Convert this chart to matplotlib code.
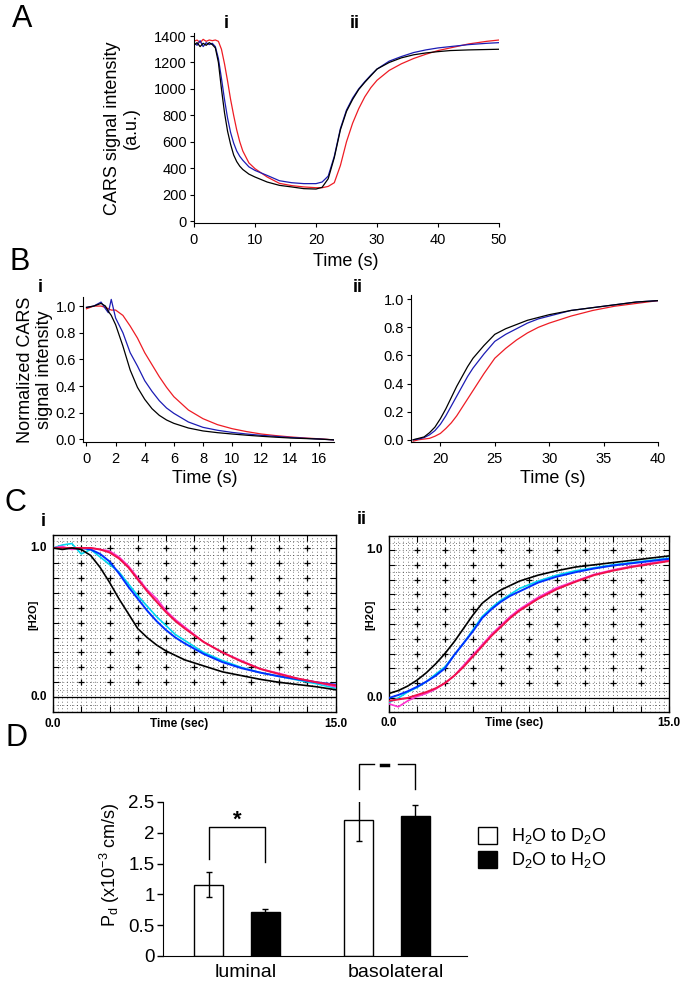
import numpy as np
import matplotlib.pyplot as plt
from matplotlib.patches import Rectangle
from matplotlib.ticker import MultipleLocator
import matplotlib.transforms as mtransforms

plt.rcParams['font.family'] = ['Liberation Sans', 'DejaVu Sans']
plt.rcParams['mathtext.default'] = 'regular'

# ---- A: raw CARS signal during H2O -> D2O -> H2O exchange
a_time = [0, 0.5, 1, 1.5, 2, 2.5, 3, 3.5, 4, 4.5, 5, 5.5, 6, 6.5, 7, 7.5, 8,
          9, 10, 12, 14, 16, 18, 20, 21, 22, 23, 24, 25, 26, 27, 28, 29, 30,
          32, 34, 36, 38, 40, 42, 45, 48, 50]
a_black = [1330, 1350, 1320, 1345, 1330, 1350, 1335, 1310, 1200, 1000, 820, 680,
           580, 500, 450, 415, 390, 355, 333, 295, 270, 258, 245, 242, 255, 320,
           480, 690, 830, 920, 995, 1050, 1100, 1150, 1200, 1235, 1258, 1272,
           1282, 1290, 1295, 1298, 1300]
a_blue = [1350, 1330, 1365, 1320, 1350, 1335, 1345, 1320, 1230, 1080, 920, 780,
          670, 590, 530, 490, 460, 410, 383, 345, 305, 290, 283, 283, 295, 340,
          490, 700, 840, 930, 1000, 1055, 1105, 1150, 1210, 1245, 1275, 1295,
          1310, 1320, 1335, 1345, 1350]
a_red = [1360, 1370, 1350, 1375, 1360, 1370, 1365, 1370, 1360, 1300, 1190, 1060,
         920, 800, 690, 600, 530, 440, 396, 333, 285, 268, 258, 252, 252, 262,
         290, 420, 600, 740, 850, 940, 1010, 1065, 1140, 1190, 1230, 1262, 1290,
         1310, 1340, 1360, 1370]

# ---- B: normalized traces, (i) H2O -> D2O, (ii) D2O -> H2O
bi_time = [0, 0.5, 1, 1.3, 1.5, 1.7, 2, 2.5, 3, 3.5, 4, 4.5, 5, 5.5, 6, 7, 8,
           9, 10, 11, 12, 13, 14, 15, 16, 17]
bi_black = [0.99, 1.0, 1.02, 1.0, 0.96, 0.93, 0.86, 0.70, 0.52, 0.39, 0.30, 0.23,
            0.18, 0.145, 0.12, 0.085, 0.063, 0.05, 0.04, 0.031, 0.023, 0.016,
            0.01, 0.006, 0.002, -0.004]
bi_blue = [0.99, 1.0, 1.03, 0.98, 0.95, 1.05, 0.91, 0.80, 0.65, 0.55, 0.44, 0.36,
           0.29, 0.235, 0.195, 0.13, 0.09, 0.068, 0.052, 0.04, 0.03, 0.022,
           0.014, 0.008, 0.002, -0.004]
bi_red = [0.98, 1.0, 1.0, 0.99, 0.98, 0.97, 0.97, 0.93, 0.85, 0.76, 0.65, 0.56,
          0.47, 0.39, 0.32, 0.22, 0.155, 0.11, 0.08, 0.058, 0.04, 0.028, 0.018,
          0.01, 0.004, -0.004]

bii_time = [17.5, 18, 18.5, 19, 19.5, 20, 20.5, 21, 21.5, 22, 22.5, 23, 24, 25,
            26, 27, 28, 29, 30, 32, 34, 36, 38, 40]
bii_black = [0.0, 0.01, 0.02, 0.05, 0.09, 0.15, 0.22, 0.30, 0.38, 0.45, 0.52,
             0.58, 0.67, 0.75, 0.79, 0.82, 0.85, 0.87, 0.89, 0.92, 0.94, 0.96,
             0.98, 0.99]
bii_blue = [0.0, 0.005, 0.015, 0.035, 0.065, 0.11, 0.17, 0.24, 0.31, 0.38, 0.45,
            0.51, 0.61, 0.70, 0.75, 0.79, 0.83, 0.86, 0.88, 0.92, 0.94, 0.96,
            0.98, 0.99]
bii_red = [-0.01, 0.0, 0.005, 0.01, 0.025, 0.045, 0.08, 0.12, 0.17, 0.23, 0.29,
           0.35, 0.47, 0.58, 0.65, 0.71, 0.76, 0.80, 0.83, 0.88, 0.92, 0.95,
           0.97, 0.99]

# ---- C: [H2O] traces with fits
c_time = [0, 0.5, 1, 1.5, 2, 2.5, 3, 3.5, 4, 4.5, 5, 5.5, 6, 6.5, 7, 8, 9, 10,
          11, 12, 13, 14, 15]
ci_black = [1.0, 0.99, 1.0, 0.99, 0.95, 0.87, 0.77, 0.66, 0.56, 0.46, 0.40,
            0.35, 0.31, 0.28, 0.25, 0.21, 0.17, 0.145, 0.12, 0.10, 0.085, 0.07,
            0.05]
ci_blue = [1.0, 1.0, 1.0, 1.0, 0.99, 0.96, 0.91, 0.83, 0.74, 0.66, 0.58, 0.51,
           0.45, 0.40, 0.36, 0.29, 0.235, 0.195, 0.165, 0.14, 0.12, 0.10, 0.085]
ci_cyan = [1.0, 1.02, 1.03, 0.96, 0.99, 0.94, 0.89, 0.84, 0.76, 0.68, 0.61, 0.54,
           0.48, 0.42, 0.38, 0.30, 0.245, 0.20, 0.165, 0.14, 0.115, 0.09, 0.06]
ci_red = [1.0, 1.0, 1.0, 1.0, 1.0, 0.99, 0.97, 0.93, 0.87, 0.79, 0.71, 0.64,
          0.57, 0.51, 0.46, 0.37, 0.30, 0.24, 0.19, 0.155, 0.125, 0.10, 0.08]
ci_magenta = [1.0, 1.01, 0.99, 1.0, 1.0, 0.99, 0.98, 0.94, 0.88, 0.80, 0.72,
              0.66, 0.58, 0.52, 0.47, 0.37, 0.30, 0.245, 0.19, 0.16, 0.125,
              0.10, 0.07]

cii_black = [0.03, 0.05, 0.08, 0.12, 0.17, 0.23, 0.30, 0.38, 0.47, 0.56, 0.64,
             0.69, 0.73, 0.76, 0.79, 0.83, 0.86, 0.885, 0.90, 0.915, 0.93,
             0.945, 0.96]
cii_blue = [0.0, 0.02, 0.045, 0.075, 0.11, 0.15, 0.20, 0.29, 0.37, 0.45, 0.54,
            0.60, 0.65, 0.69, 0.72, 0.78, 0.82, 0.85, 0.875, 0.895, 0.91, 0.925,
            0.94]
cii_cyan = [-0.03, 0.0, 0.04, 0.07, 0.11, 0.16, 0.21, 0.29, 0.37, 0.46, 0.55,
            0.61, 0.66, 0.70, 0.74, 0.79, 0.83, 0.86, 0.88, 0.90, 0.915, 0.93,
            0.945]
cii_red = [-0.02, -0.01, 0.0, 0.02, 0.04, 0.065, 0.10, 0.15, 0.21, 0.28, 0.35,
           0.42, 0.48, 0.54, 0.59, 0.67, 0.735, 0.785, 0.83, 0.86, 0.885, 0.905,
           0.925]
cii_magenta = [-0.04, -0.06, -0.02, 0.01, 0.03, 0.06, 0.10, 0.15, 0.22, 0.29,
               0.36, 0.43, 0.49, 0.55, 0.60, 0.68, 0.745, 0.79, 0.835, 0.865,
               0.89, 0.91, 0.93]

# ---- D: diffusional water permeability
groups = ['luminal', 'basolateral']
h2o_to_d2o = [1.16, 2.21]
h2o_to_d2o_err = [0.21, 0.35]
d2o_to_h2o = [0.72, 2.28]
d2o_to_h2o_err = [0.05, 0.17]

W, H = 685, 983
fig = plt.figure(figsize=(W / 100, H / 100), dpi=100)


def px_axes(l, t, r, b):
    return fig.add_axes([l / W, 1 - b / H, (r - l) / W, (b - t) / H])


def px_text(x, y, s, **kw):
    kw.setdefault('ha', 'center')
    kw.setdefault('va', 'center')
    fig.text(x / W, 1 - y / H, s, **kw)


BLUE = '#1c1cb4'
RED = '#ee1c24'


def plain_axes(ax):
    for s in ('top', 'right'):
        ax.spines[s].set_visible(False)
    for s in ('left', 'bottom'):
        ax.spines[s].set_linewidth(0.8)
    ax.tick_params(direction='out', length=3, width=0.8, labelsize=10.5, pad=2)
    ax.tick_params(axis='x', pad=4)


# panel A
ax = px_axes(194, 33, 499, 223)
ax.plot(a_time, a_red, color=RED, lw=0.9)
ax.plot(a_time, a_blue, color=BLUE, lw=0.9)
ax.plot(a_time, a_black, color='k', lw=0.9)
ax.set_xlim(0, 50)
ax.set_ylim(-15, 1423)
ax.set_xticks(range(0, 51, 10))
ax.set_yticks(range(0, 1401, 200))
plain_axes(ax)
px_text(122, 128, 'CARS signal intensity\n(a.u.)', rotation=90, fontsize=13,
        linespacing=1.1)
px_text(346, 261, 'Time (s)', fontsize=13)
px_text(22, 19, 'A', fontsize=22)
px_text(226, 24, 'i', fontsize=13, fontweight='bold')
px_text(355, 24, 'ii', fontsize=13, fontweight='bold')

# panel B
ax = px_axes(83, 297, 334, 442)
ax.plot(bi_time, bi_red, color=RED, lw=0.9)
ax.plot(bi_time, bi_blue, color=BLUE, lw=0.9)
ax.plot(bi_time, bi_black, color='k', lw=0.9)
ax.set_xlim(-0.24, 17.0)
ax.set_ylim(-0.02, 1.068)
ax.set_xticks(range(0, 17, 2))
ax.set_yticks(np.arange(0, 1.01, 0.2))
ax.yaxis.set_major_formatter('{x:.1f}')
plain_axes(ax)

ax = px_axes(411, 295, 658, 442)
ax.plot(bii_time, bii_red, color=RED, lw=0.9)
ax.plot(bii_time, bii_blue, color=BLUE, lw=0.9)
ax.plot(bii_time, bii_black, color='k', lw=0.9)
ax.set_xlim(17.3, 40)
ax.set_ylim(-0.016, 1.03)
ax.set_xticks(range(20, 41, 5))
ax.set_yticks(np.arange(0, 1.01, 0.2))
ax.yaxis.set_major_formatter('{x:.1f}')
plain_axes(ax)

px_text(35, 370, 'Normalized CARS\nsignal intensity', rotation=90, fontsize=13,
        linespacing=1.2)
px_text(205, 478, 'Time (s)', fontsize=13)
px_text(553, 478, 'Time (s)', fontsize=13)
px_text(20, 262, 'B', fontsize=22)
px_text(40, 287, 'i', fontsize=13, fontweight='bold')
px_text(358, 287, 'ii', fontsize=13, fontweight='bold')


# panel C
def grid_axes(box, ylim, traces):
    ax = px_axes(*box)
    ax.set_xlim(0, 15)
    ax.set_ylim(*ylim)
    ax.xaxis.set_major_locator(MultipleLocator(1.5))
    ax.yaxis.set_major_locator(MultipleLocator(0.1))
    ax.xaxis.set_minor_locator(MultipleLocator(0.25))
    ax.yaxis.set_minor_locator(MultipleLocator(0.05))
    ax.grid(which='both', color='k', lw=0.5, ls=(0, (1, 3.8)))
    ax.tick_params(which='major', direction='in', length=4, width=0.8,
                   top=True, right=True, labelleft=False, labelbottom=False)
    ax.tick_params(which='minor', length=0)
    gx, gy = np.meshgrid(np.arange(1.5, 14.9, 1.5), np.arange(0.1, 1.01, 0.1))
    ax.plot(gx.ravel(), gy.ravel(), ls='none', marker='+', ms=5, mew=0.9,
            color='k', zorder=2)
    ax.axhline(0, color='k', lw=0.9, zorder=2)
    for y, c, lw in traces:
        ax.plot(c_time, y, color=c, lw=lw, zorder=3)
    for s in ax.spines.values():
        s.set_linewidth(1.0)
    yt = mtransforms.blended_transform_factory(ax.transAxes, ax.transData)
    for v in (1.0, 0.0):
        ax.text(-0.022, v, f'{v:.1f}', transform=yt, ha='right', va='center',
                fontsize=8.5, fontweight='bold')
    xt = mtransforms.blended_transform_factory(ax.transData, ax.transAxes)
    for v in (0.0, 15.0):
        ax.text(v, -0.065, f'{v:.1f}', transform=xt, ha='center', va='center',
                fontsize=8.5, fontweight='bold')
    ax.text(0.447, -0.065, 'Time (sec)', transform=ax.transAxes, ha='center',
            va='center', fontsize=8.5, fontweight='bold')
    ax.text(-0.068, 0.55, '[H2O]', transform=ax.transAxes, rotation=90,
            ha='center', va='center', fontsize=8, fontweight='bold')
    return ax


grid_axes((53, 535, 335.5, 712), (-0.099, 1.087),
          [(ci_cyan, '#00d8f0', 1.2), (ci_magenta, '#ff30d0', 1.2),
           (ci_blue, '#0030ff', 1.4), (ci_red, '#f0104a', 1.4),
           (ci_black, 'k', 1.2)])
grid_axes((389, 536, 668.5, 712), (-0.095, 1.095),
          [(cii_cyan, '#00d8f0', 1.2), (cii_magenta, '#ff30d0', 1.2),
           (cii_blue, '#0030ff', 1.4), (cii_red, '#f0104a', 1.4),
           (cii_black, 'k', 1.2)])
px_text(15, 503, 'C', fontsize=22)
px_text(43, 522, 'i', fontsize=13, fontweight='bold')
px_text(362, 519, 'ii', fontsize=13, fontweight='bold')

# panel D
ax = px_axes(163, 802, 467, 956)
xpos = np.arange(len(groups))
off, bw = 0.187, 0.193
ax.bar(xpos - off, h2o_to_d2o, bw, color='white', edgecolor='k', lw=1,
       yerr=h2o_to_d2o_err, error_kw=dict(ecolor='k', elinewidth=1, capsize=2.5,
                                          capthick=1))
ax.bar(xpos + off, d2o_to_h2o, bw, color='k', edgecolor='k', lw=1,
       yerr=d2o_to_h2o_err, error_kw=dict(ecolor='k', elinewidth=1, capsize=2.5,
                                          capthick=1))
ax.set_xlim(-0.493, 1.533)
ax.set_ylim(0, 2.5)
ax.set_yticks([0, 0.5, 1, 1.5, 2, 2.5])
ax.set_yticklabels(['0', '0.5', '1', '1.5', '2', '2.5'])
ax.set_xticks(xpos + 0.06)
ax.set_xticklabels(groups)
for s in ('top', 'right'):
    ax.spines[s].set_visible(False)
ax.tick_params(axis='y', direction='out', length=4, width=1, labelsize=13.5,
               pad=2)
ax.tick_params(axis='x', length=0, labelsize=14, pad=6)

# significance brackets
ax.plot([-off, -off, off, off], [1.57, 2.094, 2.094, 1.53], color='k', lw=1)
ax.text(0, 2.2, '*', ha='center', va='center', fontsize=16, fontweight='bold')
ax.plot([1 - off, 1 - off, 0.91], [2.71, 3.12, 3.12], color='k', lw=1,
        clip_on=False)
ax.plot([1.07, 1 + off, 1 + off], [3.12, 3.12, 2.71], color='k', lw=1,
        clip_on=False)
ax.plot([0.96, 1.005], [3.1, 3.1], color='k', lw=2.5, clip_on=False)

px_text(110, 865, 'P$_d$ (x10$^{-3}$ cm/s)', rotation=90, fontsize=13)
px_text(17, 738, 'D', fontsize=22)

# legend
for y0, fc, lab in ((827, 'white', 'H$_2$O to D$_2$O'),
                    (851, 'k', 'D$_2$O to H$_2$O')):
    fig.add_artist(Rectangle((478 / W, 1 - (y0 + 16.5) / H), 19 / W, 16.5 / H,
                             transform=fig.transFigure, facecolor=fc,
                             edgecolor='k', lw=1))
    px_text(511, y0 + 9, lab, ha='left', fontsize=13)

fig.savefig('out.png', dpi=100)
